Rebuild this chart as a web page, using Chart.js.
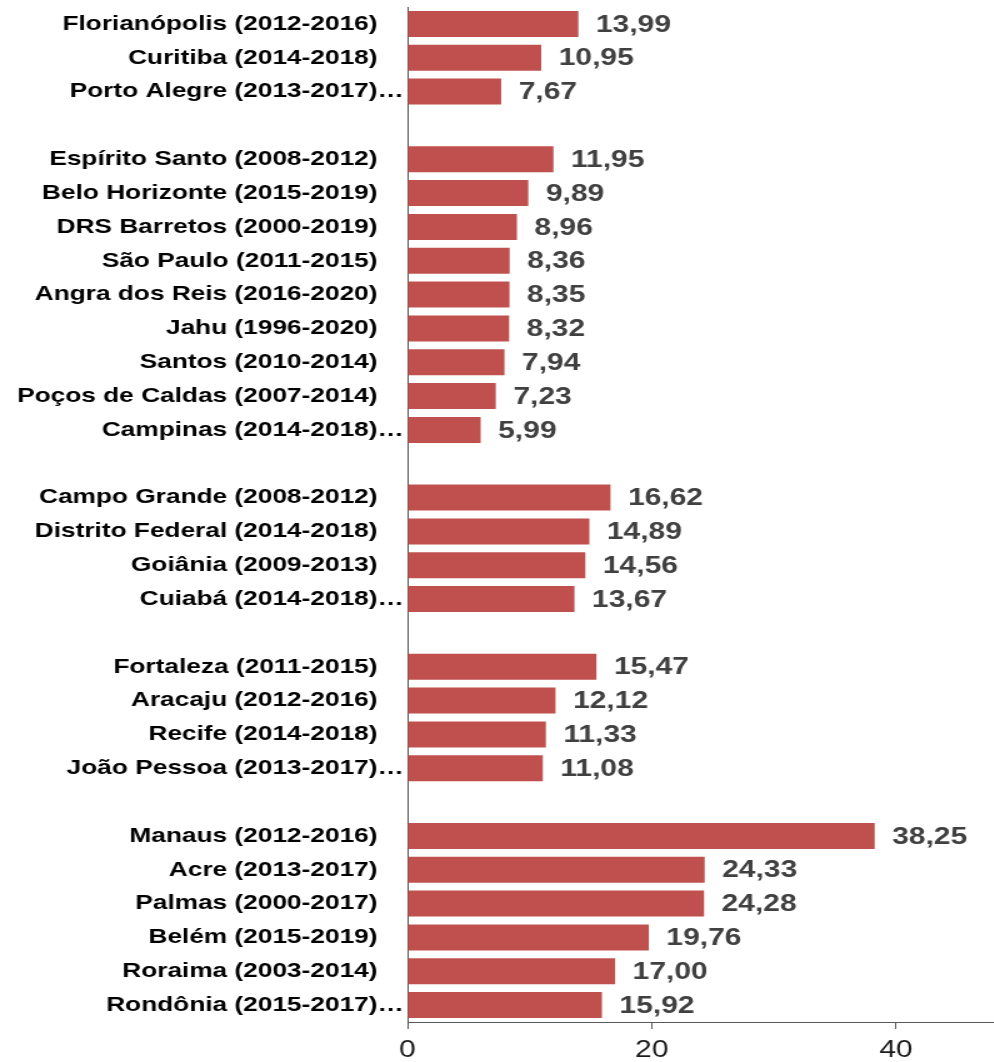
<!DOCTYPE html>
<html>
<head>
<meta charset="utf-8">
<script src="https://cdn.jsdelivr.net/npm/chart.js@4.4.1/dist/chart.umd.min.js"></script>
<style>
	html, body { margin: 0; padding: 0; background: #fff; overflow: hidden; }
	/* the source picture is stretched sideways, so the chart is drawn narrow and widened */
	.wrap { width: 795px; height: 1062px; transform: scaleX(1.25); transform-origin: 0 0; }
</style>
</head>
<body>
<div class="wrap"><canvas id="chart"></canvas></div>
<script>
// empty strings are the gaps between the regional groups
var categories = [
	'Florianópolis (2012-2016)', 'Curitiba (2014-2018)', 'Porto Alegre (2013-2017)…',
	'',
	'Espírito Santo (2008-2012)', 'Belo Horizonte (2015-2019)', 'DRS Barretos (2000-2019)',
	'São Paulo (2011-2015)', 'Angra dos Reis (2016-2020)', 'Jahu (1996-2020)',
	'Santos (2010-2014)', 'Poços de Caldas (2007-2014)', 'Campinas (2014-2018)…',
	'',
	'Campo Grande (2008-2012)', 'Distrito Federal (2014-2018)', 'Goiânia (2009-2013)', 'Cuiabá (2014-2018)…',
	'',
	'Fortaleza (2011-2015)', 'Aracaju (2012-2016)', 'Recife (2014-2018)', 'João Pessoa (2013-2017)…',
	'',
	'Manaus (2012-2016)', 'Acre (2013-2017)', 'Palmas (2000-2017)', 'Belém (2015-2019)',
	'Roraima (2003-2014)', 'Rondônia (2015-2017)…'
];
var values = [
	13.99, 10.95, 7.67,
	null,
	11.95, 9.89, 8.96, 8.36, 8.35, 8.32, 7.94, 7.23, 5.99,
	null,
	16.62, 14.89, 14.56, 13.67,
	null,
	15.47, 12.12, 11.33, 11.08,
	null,
	38.25, 24.33, 24.28, 19.76, 17.00, 15.92
];
var xTicks = [0, 20, 40];
var xMax = 48;

function fmt(v){
	return v.toFixed(2).replace('.', ',');
}

var valueLabels = {
	id: 'valueLabels',
	afterDatasetsDraw: function(chart){
		var ctx = chart.ctx;
		var meta = chart.getDatasetMeta(0);
		ctx.save();
		ctx.font = 'bold 24px "Liberation Sans", Arial, sans-serif';
		ctx.fillStyle = '#404040';
		ctx.textAlign = 'left';
		ctx.textBaseline = 'middle';
		meta.data.forEach(function(bar, i){
			if (values[i] == null) return;
			ctx.fillText(fmt(values[i]), bar.x + 14, bar.y + 1);
		});
		ctx.restore();
	}
};

new Chart(document.getElementById('chart'), {
	type: 'bar',
	data: {
		labels: categories,
		datasets: [{
			data: values,
			backgroundColor: '#c0504d',
			borderWidth: 0,
			barPercentage: 0.77,
			categoryPercentage: 1
		}]
	},
	options: {
		indexAxis: 'y',
		responsive: true,
		maintainAspectRatio: false,
		animation: false,
		layout: { padding: { top: 7, right: 0, bottom: 0, left: 0 } },
		plugins: {
			legend: { display: false },
			tooltip: { enabled: false }
		},
		scales: {
			x: {
				min: 0,
				max: xMax,
				afterBuildTicks: function(scale){
					scale.ticks = xTicks.map(function(v){ return { value: v }; });
				},
				afterFit: function(scale){ scale.height = 40; },
				grid: { drawOnChartArea: false, drawTicks: true, tickLength: 7, color: '#595959' },
				border: { display: true, color: '#595959', width: 1 },
				ticks: {
					padding: 7,
					color: '#1a1a1a',
					font: { family: '"Liberation Sans", Arial, sans-serif', size: 24 }
				}
			},
			y: {
				afterFit: function(scale){
					scale.width = 326;
					scale.paddingTop = 0;
					scale.paddingBottom = 0;
				},
				grid: { display: false, drawTicks: false },
				border: { display: true, color: '#595959', width: 1 },
				ticks: {
					padding: 3,
					autoSkip: false,
					color: '#000',
					font: { family: '"Liberation Sans", Arial, sans-serif', size: 21, weight: 'bold' },
					callback: function(v, i){
						var s = categories[i];
						// truncated labels keep their ellipsis over the axis, the rest end one em earlier
						if (s === '' || s.slice(-1) === '…') return s;
						return s + '\u2003';
					}
				}
			}
		}
	},
	plugins: [valueLabels]
});
</script>
</body>
</html>
